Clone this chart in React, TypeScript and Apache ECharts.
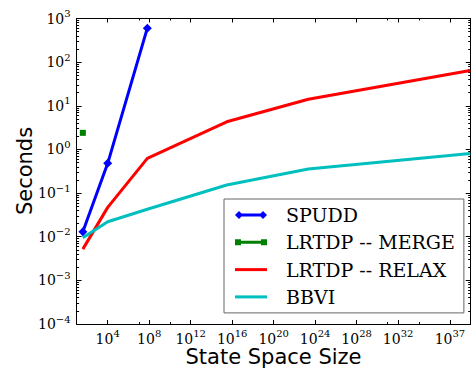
import React, { useEffect, useRef } from 'react';
import * as echarts from 'echarts';

// ---- data ----
const stateSizes = [40, 1e4, 6.6e7, 3e15, 2.2e23, 9e38];
const spuddSec = [0.013, 0.48, 600];
const mergeSizes = [40];
const mergeSec = [2.4];
const relaxSec = [0.0052, 0.047, 0.625, 4.3, 14.1, 64];
const bbviSec = [0.0095, 0.022, 0.0425, 0.153, 0.356, 0.81];

// ---- tick exponents ----
const xMajorExp = [4, 8, 12, 16, 20, 24, 28, 32, 37];
const xMinorExp = [7, 10, 31, 34];
const yMajorExp = [-4, -3, -2, -1, 0, 1, 2, 3];
const yMinorMult = [2, 3, 4, 5, 6, 7, 8, 9];
const yMinorExp: number[] = [];
for (let n = -4; n < 3; n++) for (const k of yMinorMult) yMinorExp.push(n + Math.log10(k));

const seriesNames = ['SPUDD', 'LRTDP -- MERGE', 'LRTDP -- RELAX', 'BBVI'];
const seriesColors = ['#0000ff', '#008000', '#ff0000', '#00bfbf'];

const pts = (xs: number[], ys: number[]) => ys.map((y, i) => [Math.log10(xs[i]), Math.log10(y)]);
const sup = (v: number) => String(Math.round(v)).replace('-', '\u2212');

const SERIF = 'DejaVu Serif';
const SANS = 'DejaVu Sans';

const richLabel = {
  b: { fontSize: 14, fontFamily: SERIF, color: '#000', lineHeight: 20 },
  s: { fontSize: 10, fontFamily: SERIF, color: '#000', lineHeight: 10, verticalAlign: 'top' },
};

function xAxisDef(position: 'top' | 'bottom', values: number[], len: number, withLine: boolean, withLabel: boolean) {
  return {
    type: 'value', position, min: 1, max: 39, gridIndex: 0,
    splitLine: { show: false },
    axisLine: { show: withLine, onZero: false, lineStyle: { color: '#000', width: 1 } },
    axisTick: { show: true, inside: true, length: len, customValues: values, lineStyle: { color: '#000', width: 1 } },
    axisLabel: withLabel
      ? { show: true, customValues: values, margin: 4.5, formatter: (v: number) => `{b|10}{s|${sup(v)}}`, rich: richLabel }
      : { show: false },
  };
}

function yAxisDef(position: 'left' | 'right', values: number[], len: number, withLine: boolean, withLabel: boolean) {
  return {
    type: 'value', position, min: -4, max: 3, gridIndex: 0,
    splitLine: { show: false },
    axisLine: { show: withLine, onZero: false, lineStyle: { color: '#000', width: 1 } },
    axisTick: { show: true, inside: true, length: len, customValues: values, lineStyle: { color: '#000', width: 1 } },
    axisLabel: withLabel
      ? { show: true, customValues: values, margin: 6, formatter: (v: number) => `{b|10}{s|${sup(v)}}`, rich: richLabel }
      : { show: false },
  };
}

const icons = [
  'path://M0 4L4 0L8 4L4 8ZM24 4L28 0L32 4L28 8ZM4 2.5L28 2.5L28 5.5L4 5.5Z',
  'path://M0 0L0 0M32 8L32 8M0 1L6 1L6 7L0 7ZM26 1L32 1L32 7L26 7ZM6 2.5L26 2.5L26 5.5L6 5.5Z',
  'path://M0 0L0 0M32 8L32 8M0 2.5L32 2.5L32 5.5L0 5.5Z',
  'path://M0 0L0 0M32 8L32 8M0 2.5L32 2.5L32 5.5L0 5.5Z',
];

export default function App() {
  const ref = useRef<HTMLDivElement>(null);
  useEffect(() => {
    if (!ref.current) return;
    const chart = echarts.init(ref.current, undefined, { renderer: 'svg' });
    const lineBase = (i: number) => ({
      name: seriesNames[i],
      type: 'line',
      xAxisIndex: 0,
      yAxisIndex: 0,
      color: seriesColors[i],
      lineStyle: { width: 3, color: seriesColors[i] },
      itemStyle: { color: seriesColors[i] },
      emphasis: { disabled: true },
      silent: true,
    });
    chart.setOption({
      animation: false,
      grid: { left: 76.6, top: 18.5, width: 394.1, height: 305.5, containLabel: false },
      xAxis: [
        xAxisDef('bottom', xMajorExp, 4, true, true),
        xAxisDef('bottom', xMinorExp, 2, false, false),
        xAxisDef('top', xMajorExp, 4, true, false),
        xAxisDef('top', xMinorExp, 2, false, false),
      ],
      yAxis: [
        yAxisDef('left', yMajorExp, 5, true, true),
        yAxisDef('left', yMinorExp, 2.5, false, false),
        yAxisDef('right', yMajorExp, 5, true, false),
        yAxisDef('right', yMinorExp, 2.5, false, false),
      ],
      legend: {
        orient: 'vertical',
        left: 224,
        top: 199,
        padding: [6, 9, 6, 11],
        itemWidth: 32,
        itemHeight: 8,
        itemGap: 7.3,
        backgroundColor: '#fff',
        borderColor: '#666',
        borderWidth: 1,
        selectedMode: false,
        itemStyle: { borderWidth: 0 },
        formatter: '{t|{name}}',
        textStyle: {
          fontFamily: SERIF, fontSize: 19, color: '#000', lineHeight: 20,
          rich: { t: { fontFamily: SERIF, fontSize: 19, color: '#000', lineHeight: 20, padding: [0, 0, 0, 14] } },
        },
        data: seriesNames.map((n, i) => ({ name: n, icon: icons[i], itemStyle: { color: seriesColors[i], borderWidth: 0 } })),
      },
      graphic: [
        {
          type: 'text', x: 273.5, y: 357,
          style: { text: 'State Space Size', fontFamily: SANS, fontSize: 21, fill: '#000', align: 'center', verticalAlign: 'middle' },
        },
        {
          type: 'text', x: 25, y: 171, rotation: Math.PI / 2,
          style: { text: 'Seconds', fontFamily: SANS, fontSize: 21, fill: '#000', align: 'center', verticalAlign: 'middle' },
        },
      ],
      series: [
        { ...lineBase(0), data: pts(stateSizes, spuddSec), symbol: 'diamond', symbolSize: 9, showSymbol: true },
        { ...lineBase(1), data: pts(mergeSizes, mergeSec), symbol: 'rect', symbolSize: 6, showSymbol: true },
        { ...lineBase(2), data: pts(stateSizes, relaxSec), symbol: 'none', showSymbol: false },
        { ...lineBase(3), data: pts(stateSizes, bbviSec), symbol: 'none', showSymbol: false },
      ],
    });
    return () => chart.dispose();
  }, []);
  return <div ref={ref} style={{ position: 'absolute', left: 0, top: 0, width: 471, height: 373, background: '#fff' }} />;
}
